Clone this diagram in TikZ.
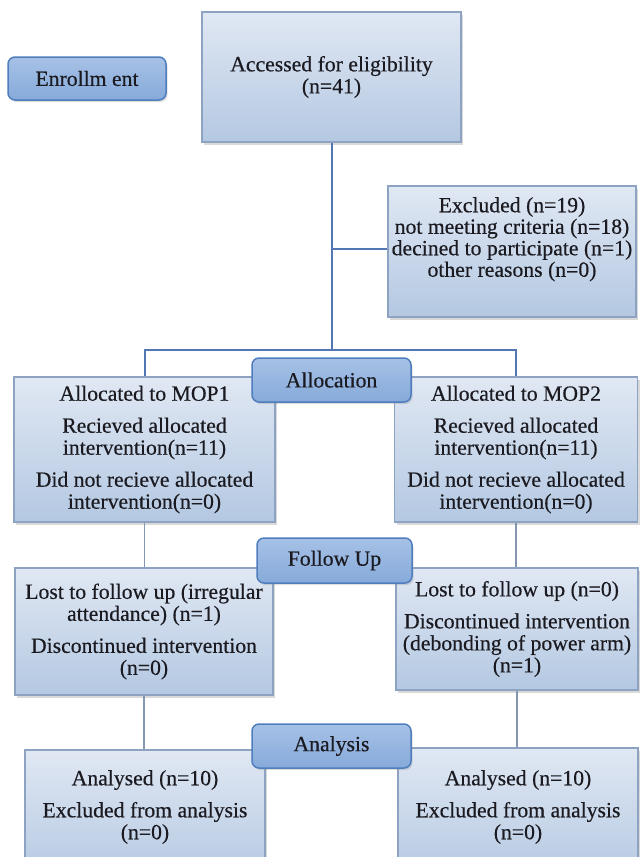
\documentclass[tikz,border=0pt]{standalone}
\usepackage{fontspec}
\setmainfont{Liberation Serif}
\usetikzlibrary{shadows,calc}
\definecolor{boxtop}{HTML}{E0E8F3}
\definecolor{boxbot}{HTML}{B4C8E2}
\definecolor{boxline}{HTML}{8EA3C1}
\definecolor{labtop}{HTML}{A6C1E6}
\definecolor{labbot}{HTML}{86AADA}
\definecolor{labline}{HTML}{4F7DBD}
\definecolor{linkblue}{HTML}{5277B3}
\definecolor{linkgray}{HTML}{8596B0}
\definecolor{txtcol}{HTML}{1A1A20}
\newcommand\mainfs{\fontsize{21.7}{22}\selectfont\addfontfeature{FakeBold=0.4}}
\tikzset{
  infobox/.style={draw=boxline, line width=1.3pt, top color=boxtop, bottom color=boxbot,
    drop shadow={shadow xshift=2pt, shadow yshift=-2.5pt, opacity=0.3},
    inner sep=0pt, align=center, font=\mainfs, text=txtcol},
  labelbox/.style={draw=labline, line width=1.5pt, rounded corners=7pt, top color=labtop, bottom color=labbot,
    drop shadow={shadow xshift=1.5pt, shadow yshift=-2pt, opacity=0.25},
    inner sep=0pt, align=center, font=\mainfs, text=txtcol},
  txt/.style={align=center, inner sep=0pt, font=\mainfs, text=txtcol},
  link/.style={draw=linkblue, line width=2pt},
  sublink/.style={draw=linkgray, line width=1.6pt},
}
\begin{document}
\begin{tikzpicture}[x=1pt,y=-1pt]
\useasboundingbox (0,0) rectangle (640,857);
\clip (0,0) rectangle (640,857);
% main boxes
\node[infobox, minimum width=259pt, minimum height=130pt] (acc) at (331.5,77) {Accessed for eligibility\\(n=41)};
\node[infobox, minimum width=248pt, minimum height=131pt] (excl) at (512,251.5) {};
\node[txt, anchor=north] (exclt) at (512,197) {Excluded (n=19)\\[-0.5pt]not meeting criteria (n=18)\\[-0.5pt]decined to participate (n=1)\\[-0.5pt]other reasons (n=0)};
\node[infobox, minimum width=261pt, minimum height=145pt] (mop1) at (144.5,449.5) {Allocated to MOP1\\[10pt]Recieved allocated\\intervention(n=11)\\[10pt]Did not recieve allocated\\intervention(n=0)};
\node[infobox, minimum width=243pt, minimum height=145pt] (mop2) at (516,449.5) {Allocated to MOP2\\[10pt]Recieved allocated\\intervention(n=11)\\[10pt]Did not recieve allocated\\intervention(n=0)};
\node[infobox, minimum width=258pt, minimum height=127pt] (fu1) at (144,631.5) {Lost to follow up (irregular\\attendance) (n=1)\\[10pt]Discontinued intervention\\(n=0)};
\node[infobox, minimum width=242pt, minimum height=122pt] (fu2) at (517,629) {Lost to follow up (n=0)\\[10pt]Discontinued intervention\\(debonding of power arm)\\(n=1)};
\node[infobox, minimum width=240pt, minimum height=130pt] (an1) at (145,815) {};
\node[txt, anchor=north] (an1t) at (145,770) {Analysed (n=10)\\[10pt]Excluded from analysis\\(n=0)};
\node[infobox, minimum width=240pt, minimum height=132pt] (an2) at (518,814) {};
\node[txt, anchor=north] (an2t) at (518,770) {Analysed (n=10)\\[10pt]Excluded from analysis\\(n=0)};
% connectors
\coordinate (split) at (331.5,350);
\coordinate (exj) at (331.5,249);
\draw[link] (acc.south) -- (split);
\draw[link] (exj) -- (exj -| excl.west);
\draw[link] (mop1.north) |- (split) -| (mop2.north);
\draw[sublink] (mop1.south) -- (mop1.south |- fu1.north);
\draw[sublink] (mop2.south) -- (mop2.south |- fu2.north);
\draw[sublink] (fu1.south) -- (fu1.south |- an1.north);
\draw[sublink] (fu2.south) -- (fu2.south |- an2.north);
% stage labels
\node[labelbox, minimum width=158pt, minimum height=43pt] (enroll) at (87,78.5) {Enrollm ent};
\node[labelbox, minimum width=159pt, minimum height=44pt] (alloc) at (331.5,380) {Allocation};
\node[labelbox, minimum width=155pt, minimum height=45pt] (follow) at (334.5,560.5) {Follow Up};
\node[labelbox, minimum width=159pt, minimum height=44pt] (analysis) at (331.5,746) {Analysis};
\end{tikzpicture}
\end{document}
